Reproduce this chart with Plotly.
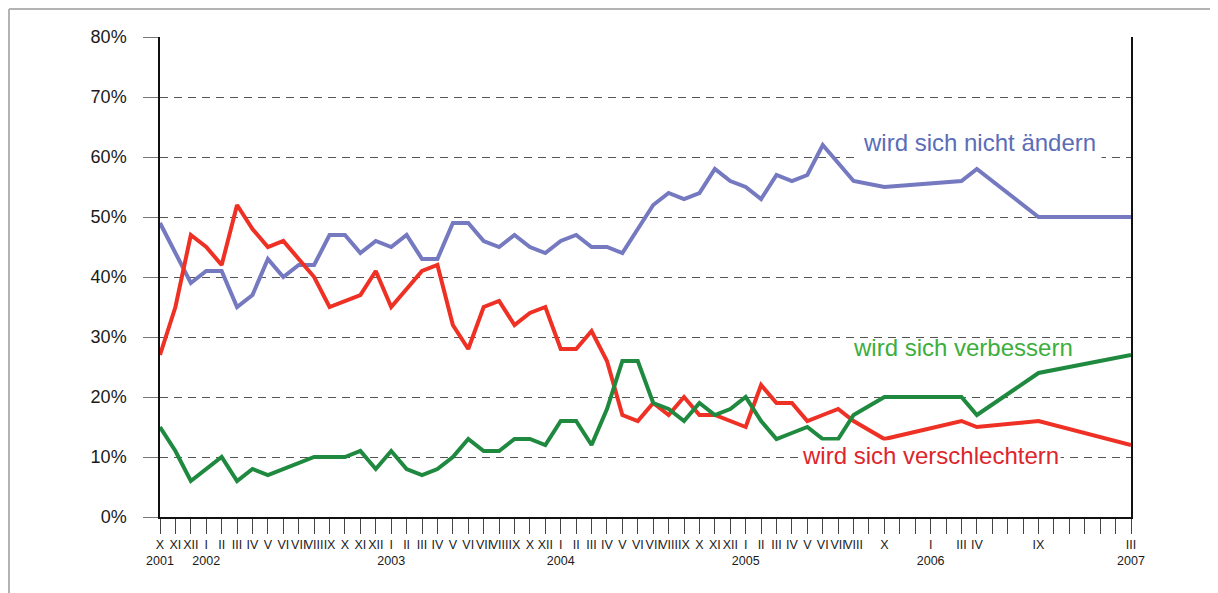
import plotly.graph_objects as go

# ---- data ----
months = ["X","XI","XII","I","II","III","IV","V","VI","VII","VIII","IX","X","XI","XII",
          "I","II","III","IV","V","VI","VII","VIII","IX","X","XII",
          "I","II","III","IV","V","VI","VII","VIII","IX","X","XI","XII",
          "I","II","III","IV","V","VI","VII","VIII","","X","","",
          "I","","III","IV","","","","IX","","","","","","III"]
years = {0: "2001", 3: "2002", 15: "2003", 26: "2004", 38: "2005", 50: "2006", 63: "2007"}

N = len(months)

nicht_aendern = [49,44,39,41,41,35,37,43,40,42,42,47,47,44,46,45,47,43,43,49,49,46,45,47,45,44,
                 46,47,45,45,44,48,52,54,53,54,58,56,55,53,57,56,57,62,59,56,None,55,None,None,
                 None,None,56,58,None,None,None,50,None,None,None,None,None,50]
verschlechtern = [27,35,47,45,42,52,48,45,46,43,40,35,36,37,41,35,38,41,42,32,28,35,36,32,34,35,
                  28,28,31,26,17,16,19,17,20,17,17,16,15,22,19,19,16,17,18,16,None,13,None,None,
                  None,None,16,15,None,None,None,16,None,None,None,None,None,12]
verbessern = [15,11,6,8,10,6,8,7,8,9,10,10,10,11,8,11,8,7,8,10,13,11,11,13,13,12,
              16,16,12,18,26,26,19,18,16,19,17,18,20,16,13,14,15,13,13,17,None,20,None,None,
              None,None,20,17,None,None,None,24,None,None,None,None,None,27]

y_ticks = [0, 10, 20, 30, 40, 50, 60, 70, 80]
y_labels = [f"{v}%" for v in y_ticks]

ticktext = [m + ("<br>" + years[i] if i in years else "") for i, m in enumerate(months)]
x = list(range(N))

series = [
    ("wird sich nicht ändern", nicht_aendern, "#7479c0"),
    ("wird sich verschlechtern", verschlechtern, "#ee3124"),
    ("wird sich verbessern", verbessern, "#1f8a3f"),
]

fig = go.Figure()
for name, vals, col in series:
    fig.add_trace(go.Scatter(x=x, y=vals, mode="lines", name=name, connectgaps=True,
                             line=dict(color=col, width=4), cliponaxis=False,
                             hoverinfo="skip"))

FONT = "Liberation Sans, Arial, sans-serif"
W, H = 1210, 585
L, R, T, B = 152, 87, 29, 76
pw, ph = W - L - R, H - T - B

fig.update_layout(
    width=W, height=H,
    margin=dict(l=L, r=R, t=T, b=B),
    paper_bgcolor="white", plot_bgcolor="white",
    showlegend=False,
    font=dict(family=FONT, color="#1a1a1a"),
    xaxis=dict(range=[0, N - 1], tickmode="array", tickvals=x, ticktext=ticktext,
               tickangle=0, showgrid=False, zeroline=False,
               showline=True, linecolor="#111", linewidth=1.5,
               ticks="outside", ticklen=15, tickcolor="#444", tickwidth=1.2,
               tickfont=dict(size=12.5, family=FONT, color="#1a1a1a")),
    yaxis=dict(range=[0, 80], tickmode="array", tickvals=y_ticks, ticktext=y_labels,
               showgrid=True, gridcolor="#555", griddash="8px,6px", gridwidth=1,
               zeroline=False, showline=True, mirror=True, linecolor="#111", linewidth=1.5,
               ticks="outside", ticklen=15, tickcolor="#777", tickwidth=1,
               ticklabelstandoff=13,
               tickfont=dict(size=18, family=FONT, color="#1a1a1a")),
)

# outer frame (left and top gray border) in paper coords
fx = (1 - L) / pw
fy = 1 + (T - 1) / ph
fig.add_shape(type="line", xref="paper", yref="paper", x0=fx, x1=fx, y0=-B / ph - 0.01, y1=fy,
              line=dict(color="#b3b3b3", width=2))
fig.add_shape(type="line", xref="paper", yref="paper", x0=fx, x1=1 + R / pw + 0.01, y0=fy, y1=fy,
              line=dict(color="#b3b3b3", width=2))

# series labels
fig.add_annotation(x=53.2, y=62.5, xref="x", yref="y", text="wird sich nicht ändern",
                   showarrow=False, font=dict(size=24, color="#5b6cb8", family=FONT),
                   bgcolor="white", borderpad=5)
fig.add_annotation(x=52.1, y=28.3, xref="x", yref="y", text="wird sich verbessern",
                   showarrow=False, font=dict(size=24, color="#3cae3c", family=FONT))
fig.add_annotation(x=50.0, y=10.2, xref="x", yref="y", text="wird sich verschlechtern",
                   showarrow=False, font=dict(size=24, color="#dc262c", family=FONT),
                   bgcolor="white", borderpad=1)

fig.write_html("out.html")
